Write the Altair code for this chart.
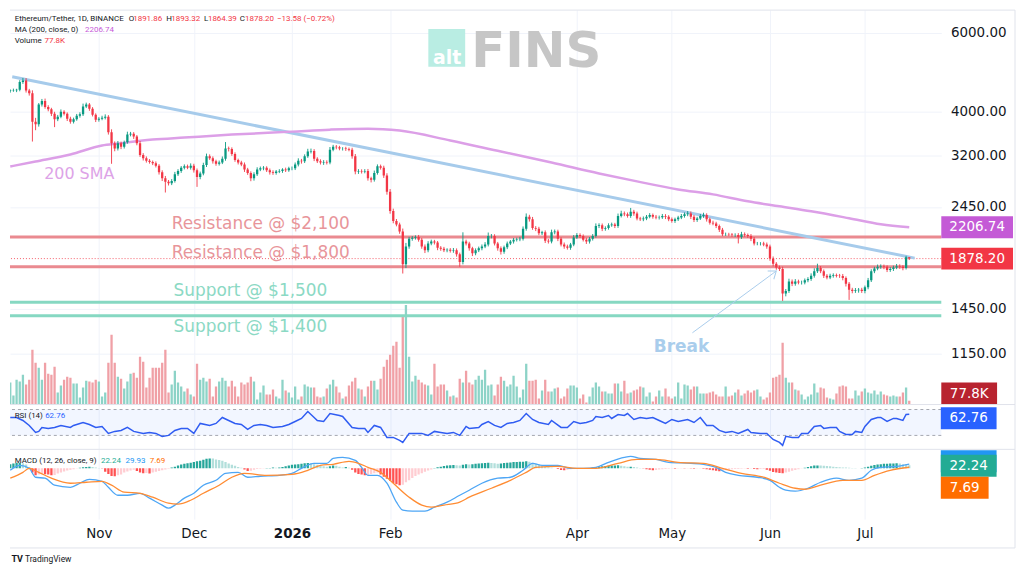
import altair as alt
import pandas as pd

# ---------------- data ----------------
FIRST_DAY = "2025-10-04"
X_START = "2025-10-03 22:00"
X_END = "2026-07-25 03:00"
FIRST_OPEN = 4450
LAST_HIGH, LAST_LOW = 1893.32, 1864.39

CLOSE = [
    4460, 4470, 4480, 4660, 4700, 4460, 4400, 3800, 3750, 4150,
    4230, 4100, 4050, 3960, 3850, 3900, 4000, 3960, 3860, 3800,
    3850, 3920, 3950, 4110, 4150, 4060, 3940, 3840, 3860, 3880,
    3900, 3600, 3400, 3310, 3400, 3340, 3420, 3560, 3570, 3520,
    3400, 3200, 3150, 3110, 3090, 3070, 3030, 2930, 2840, 2790,
    2770, 2800, 2900, 2950, 3000, 3020, 3000, 3030, 2960, 2860,
    2910, 3040, 3180, 3150, 3100, 3060, 3080, 3140, 3310, 3300,
    3220, 3120, 3080, 3050, 2970, 2920, 2840, 2900, 2970, 2990,
    3000, 2960, 2930, 2920, 2940, 2950, 2970, 2960, 2990, 2990,
    3050, 3110, 3100, 3180, 3260, 3270, 3140, 3100, 3080, 3090,
    3080, 3290, 3340, 3330, 3310, 3310, 3300, 3290, 3180, 2940,
    2950, 2940, 2950, 2840, 2820, 2920, 3020, 3000, 2880, 2650,
    2400, 2280, 2240, 2160, 1825, 2000, 2080, 2090, 2100, 2070,
    2000, 1960, 2030, 2050, 2040, 1985, 1975, 1960, 1965, 1955,
    1960, 1920, 1845, 2050, 2030, 1980, 1930, 1960, 1980, 2000,
    2020, 2110, 2110, 2030, 1980, 1945, 1990, 2030, 2050, 2070,
    2075, 2080, 2190, 2330, 2300, 2200, 2190, 2140, 2150, 2060,
    2050, 2150, 2160, 2080, 2020, 2000, 1985, 2020, 2095, 2120,
    2110, 2070, 2050, 2080, 2110, 2220, 2230, 2190, 2200, 2230,
    2240, 2220, 2340, 2370, 2360, 2340, 2390, 2370, 2310, 2300,
    2310, 2330, 2350, 2330, 2320, 2325, 2340, 2330, 2300, 2280,
    2300, 2320, 2340, 2360, 2370, 2330, 2290, 2310, 2340, 2350,
    2300, 2260, 2250, 2220, 2180, 2130, 2130, 2125, 2120, 2120,
    2100, 2130, 2120, 2110, 2080, 2030, 2030, 2030, 2020, 2000,
    1880, 1830, 1795, 1780, 1570, 1590, 1670, 1650, 1670, 1660,
    1660, 1680, 1690, 1720, 1760, 1790, 1760, 1720, 1705, 1720,
    1725, 1720, 1718, 1700, 1650, 1600, 1590, 1595, 1600, 1590,
    1620, 1680, 1760, 1785, 1800, 1805, 1800, 1770, 1780, 1795,
    1805, 1800, 1790, 1891.86, 1878.20,
]

# upper / lower wick lengths, in tenths of a percent beyond the body
UP_WICK = [
    6, 8, 5, 10, 13, 12, 9, 15, 20, 8, 10, 12, 9, 8, 10,
    9, 12, 8, 7, 10, 8, 9, 10, 15, 10, 8, 9, 7, 8, 10,
    12, 8, 15, 10, 12, 9, 8, 14, 10, 9, 8, 12, 10, 9, 8,
    7, 9, 8, 10, 12, 9, 10, 12, 9, 8, 10, 9, 12, 10, 9,
    10, 12, 14, 10, 9, 8, 10, 12, 34, 10, 9, 8, 7, 9, 10,
    9, 8, 10, 12, 9, 8, 7, 9, 10, 8, 9, 7, 10, 8, 9,
    10, 12, 9, 10, 14, 12, 9, 8, 10, 9, 8, 14, 10, 9, 8,
    7, 9, 8, 10, 12, 9, 8, 9, 10, 8, 12, 10, 9, 10, 12,
    14, 12, 10, 9, 15, 18, 10, 9, 8, 10, 9, 10, 12, 10, 9,
    8, 9, 10, 8, 9, 12, 10, 9, 49, 10, 9, 8, 10, 9, 10,
    12, 18, 10, 9, 8, 10, 9, 10, 8, 9, 8, 10, 12, 17, 10,
    12, 9, 10, 8, 10, 9, 14, 10, 9, 8, 10, 9, 8, 12, 10,
    9, 8, 10, 9, 10, 14, 10, 9, 8, 10, 9, 8, 12, 14, 10,
    9, 20, 10, 9, 8, 10, 9, 10, 8, 9, 8, 10, 9, 8, 9,
    8, 9, 10, 9, 12, 10, 9, 8, 10, 12, 9, 8, 10, 9, 8,
    9, 8, 7, 8, 9, 10, 12, 9, 8, 10, 9, 8, 7, 9, 10,
    9, 10, 8, 9, 12, 10, 14, 10, 12, 9, 10, 9, 10, 12, 15,
    22, 10, 9, 8, 10, 9, 8, 9, 10, 8, 9, 10, 12, 9, 10,
    9, 12, 10, 9, 12, 10, 9, 8, 10, 9, 12, 10, 9, 7, 1,
]
DN_WICK = [
    8, 6, 10, 8, 9, 10, 12, 97, 30, 12, 10, 9, 10, 12, 40,
    10, 8, 9, 12, 10, 9, 8, 10, 9, 8, 10, 9, 12, 10, 8,
    9, 12, 100, 14, 10, 12, 9, 8, 10, 12, 10, 9, 12, 10, 9,
    10, 9, 12, 14, 54, 12, 10, 8, 9, 10, 9, 8, 10, 12, 50,
    12, 9, 10, 9, 12, 10, 9, 8, 10, 12, 10, 9, 10, 9, 12,
    10, 15, 12, 9, 8, 10, 9, 12, 10, 9, 8, 10, 9, 8, 10,
    9, 10, 12, 9, 8, 10, 12, 9, 10, 12, 10, 9, 8, 10, 9,
    10, 9, 8, 12, 14, 12, 10, 9, 12, 14, 10, 9, 10, 12, 15,
    14, 12, 10, 12, 47, 20, 12, 10, 9, 10, 12, 14, 10, 9, 10,
    12, 10, 9, 10, 9, 10, 12, 24, 12, 10, 12, 14, 10, 9, 10,
    9, 10, 12, 10, 12, 14, 10, 9, 8, 10, 9, 10, 9, 10, 12,
    10, 12, 10, 9, 12, 10, 9, 10, 12, 10, 12, 9, 10, 9, 8,
    10, 9, 12, 10, 9, 8, 10, 12, 10, 9, 8, 10, 9, 8, 10,
    9, 10, 12, 10, 9, 10, 9, 8, 10, 9, 10, 9, 12, 10, 9,
    10, 9, 8, 9, 10, 12, 10, 9, 8, 10, 12, 10, 9, 10, 12,
    10, 9, 8, 9, 10, 33, 10, 9, 10, 12, 10, 9, 10, 9, 12,
    12, 14, 12, 10, 38, 15, 10, 12, 10, 9, 10, 9, 10, 9, 10,
    9, 10, 12, 10, 9, 10, 9, 10, 12, 14, 51, 12, 10, 12, 10,
    12, 10, 9, 10, 9, 10, 12, 10, 9, 10, 9, 10, 12, 8, 1,
]

VOLUME_K = [
    440, 180, 500, 460, 600, 400, 500, 1100, 840, 740,
    500, 840, 620, 600, 760, 240, 380, 500, 560, 540,
    420, 420, 140, 340, 480, 460, 440, 500, 460, 160,
    240, 840, 1400, 840, 560, 520, 320, 460, 620, 640,
    540, 960, 860, 340, 540, 740, 740, 740, 840, 1100,
    240, 400, 680, 440, 360, 260, 320, 200, 160, 820,
    500, 540, 460, 520, 160, 360, 460, 540, 480, 360,
    480, 360, 160, 440, 400, 440, 560, 460, 100, 240,
    380, 200, 200, 300, 160, 120, 500, 280, 240, 140,
    360, 100, 160, 400, 360, 340, 340, 160, 140, 160,
    320, 400, 500, 360, 240, 120, 160, 380, 460, 540,
    320, 300, 160, 360, 480, 480, 300, 520, 760, 900,
    1000, 1180, 1260, 740, 1780, 2000, 960, 460, 580, 500,
    440, 400, 380, 200, 820, 360, 400, 400, 280, 160,
    180, 140, 520,
    440, 680, 440, 400, 500, 580, 500, 700, 380, 400, 180, 400, 560, 480, 360, 400, 580, 360,
    140, 300, 820, 480, 480, 500, 120, 280, 500, 260, 260, 320, 340, 120, 160, 320, 380, 380, 340, 120, 200,
    40, 160, 340, 440, 360, 260, 260, 220, 220, 420, 420, 260, 480, 220, 240, 280, 300, 360, 340, 160, 240,
    60, 160, 280, 160, 320, 160, 120, 160, 440, 120, 400, 380, 300, 360, 360, 220, 220, 220, 240, 260, 200,
    160, 160, 360, 160, 180, 240, 300, 180, 220, 280, 240,
    280, 300, 160, 100, 140, 240, 540, 560, 600, 1240,
    540, 440, 440, 300, 280, 200, 100, 160, 200, 420, 240,
    340, 320, 140, 120, 100, 220, 360, 380, 360, 120, 120, 280, 180, 260, 320, 240,
    220, 280, 200, 260, 200, 180, 160, 180, 160, 160, 240, 340, 77.8,
]

SMA_DAY = [0, 8, 19, 29, 34, 45, 55, 70, 89, 101, 113, 123, 139, 155, 171, 186, 198, 211,
           222, 233, 243, 253, 265, 275, 284]
SMA_VAL = [3018, 3096, 3210, 3361, 3396, 3466, 3502, 3556, 3611, 3648, 3667, 3630, 3449, 3259,
           3080, 2912, 2795, 2682, 2614, 2522, 2458, 2396, 2312, 2241, 2206.74]

RSI_DAY = [0, 2, 4, 6, 8, 9, 10, 12, 14, 16, 19, 20, 23, 25, 27, 29, 31, 33, 35, 37,
           39, 42, 44, 46, 48, 50, 52, 54, 56, 58, 60, 63, 65, 67, 69, 71, 73, 75, 77, 79,
           81, 83, 86, 88, 90, 92, 94, 96, 97, 99, 101, 104, 105, 108, 110, 112, 113, 115, 117, 119,
           121, 123, 124, 126, 127, 130, 132, 134, 136, 138, 140, 142, 144, 145, 148, 149, 151, 153, 155, 157,
           159, 161, 163, 165, 167, 170, 171, 174, 176, 178, 180, 182, 184, 185, 187, 189, 190, 192, 194, 195,
           197, 199, 201, 203, 205, 207, 209, 211, 214, 216, 218, 220, 222, 224, 226, 228, 230, 233, 234, 237,
           239, 241, 243, 244, 245, 247, 249, 250, 252, 254, 256, 257, 259, 261, 262, 264, 266, 267, 269, 270,
           272, 274, 275, 277, 279, 280, 282, 283, 284]
RSI_VAL = [57.7, 57.7, 53.1, 45.4, 34.6, 36.2, 42.3, 40.8, 42.3, 45.4, 42.3, 45.4, 50, 46.9, 42.3, 43.8, 33.1, 36.2, 37.7, 42.3,
           36.2, 33.1, 34.6, 33.1, 28.5, 30, 37.7, 40.8, 40.8, 33.1, 48.5, 45.4, 48.5, 57.7, 53.1, 48.5, 46.9, 39.2, 45.4, 46.9,
           45.4, 42.3, 43.8, 46.9, 51.5, 56.2, 66.9, 57.7, 53.1, 51.5, 63.8, 60.8, 59.2, 42.3, 40.8, 40.8, 34.6, 45.4, 42.3, 26.9,
           26.9, 22.3, 19.2, 33.1, 33.1, 33.1, 30, 36.2, 34.6, 33.1, 34.6, 30, 43.8, 40.8, 42.3, 46.9, 51.5, 45.4, 42.3, 48.5,
           50, 53.1, 63.8, 54.6, 50, 46.9, 53.1, 42.3, 42.3, 51.5, 48.5, 50, 53.1, 59.2, 57.7, 60.8, 56.2, 62.3, 60.8, 63.8,
           54.6, 57.7, 56.2, 57.7, 53.1, 48.5, 54.6, 51.5, 54.6, 50, 57.7, 45.4, 45.4, 37.7, 34.6, 36.2, 33.1, 39.2, 34.6, 33.1,
           33.1, 23.8, 19.2, 14.6, 28.5, 26.9, 26.9, 33.1, 33.1, 43.8, 45.4, 40.8, 42.3, 42.3, 36.2, 31.5, 31.5, 36.2, 34.6, 43.8,
           54.6, 57.7, 57.7, 51.5, 56.2, 56.2, 53.1, 62.3, 62.76]

MACD_DAY = [0, 3, 6, 8, 11, 14, 19, 22, 25, 29, 31, 34, 37, 41, 44, 48, 50, 52, 55, 58,
            61, 65, 68, 72, 75, 79, 85, 89, 92, 96, 100, 102, 105, 109, 111, 113, 116, 119, 122, 124,
            127, 131, 134, 138, 142, 145, 149, 154, 158, 162, 165, 168, 173, 177, 181, 185, 189, 194, 196, 199,
            204, 208, 215, 219, 223, 226, 230, 236, 240, 243, 245, 248, 252, 256, 261, 265, 269, 272, 275, 280, 284]
MACD_VAL = [-14, 21, 0, -64, -71, -121, -136, -107, -79, -93, -136, -193, -193, -179, -214, -264, -286, -264, -214, -179,
            -121, -86, -36, -29, -64, -57, -50, -36, 0, 36, 36, 71, 79, 57, 7, -50, -50, -107, -243, -300,
            -307, -307, -279, -243, -193, -157, -107, -71, -64, -14, 36, 21, 21, 0, 0, 7, 43, 79, 86, 71,
            64, 43, 36, 29, 7, -29, -50, -64, -86, -136, -157, -164, -143, -100, -71, -86, -71, -14, 7, 14, 29.93]
SIG_DAY = [0, 4, 6, 9, 13, 19, 24, 29, 32, 36, 41, 45, 50, 53, 57, 61, 66, 70, 74, 81,
           89, 94, 98, 102, 107, 110, 113, 117, 121, 126, 130, 133, 137, 142, 145, 152, 158, 163, 166, 173,
           179, 185, 192, 198, 204, 211, 219, 225, 231, 238, 243, 248, 251, 256, 263, 269, 273, 278, 284]
SIG_VAL = [-71, -29, 0, -29, -71, -107, -100, -93, -121, -171, -179, -207, -250, -257, -229, -179, -121, -64, -36, -50,
           -43, -14, 21, 29, 50, 36, 7, -29, -107, -207, -264, -279, -264, -243, -207, -143, -86, -29, 7, 14,
           0, 0, 36, 64, 64, 43, 36, 0, -36, -64, -107, -143, -150, -121, -86, -86, -50, -14, 7.69]
HIST = [
    30, 35, 38, 40, 36, 28, 10, -30, -50, -45,
    -40, -42, -45, -50, -48, -38, -30, -22, -15, -10,
    -6, -2, 4, 8, 10, 12, 10, 6, 2, -2,
    -25, -40, -55, -57, -50, -45, -30, -22, -15, -10,
    -20, -30, -36, -34, -38, -30, -25, -20, -14, -8,
    -3, 5, 12, 20, 28, 33, 36, 40, 45, 50,
    55, 62, 68, 71, 70, 64, 60, 55, 45, 35,
    25, 18, 10, 4, -8, -20, -18, -10, -5, -3,
    -2, 2, 3, 5, 4, 6, 10, 14, 20, 25,
    28, 30, 33, 36, 38, 36, 30, 25, 20, 15,
    12, 15, 20, 18, 12, 6, 10, 4, -10, -30,
    -40, -45, -50, -48, -40, -35, -30, -45, -60, -75,
    -90, -105, -115, -121, -118, -100, -85, -70, -55, -45,
    -35, -25, -15, -8, 3, 8, 12, 16, 20, 22,
    24, 22, 20, 25, 30, 28, 30, 32, 34, 36,
    38, 40, 38, 36, 33, 35, 38, 40, 42, 45,
    46, 47, 48, 50, 47, 40, 33, 26, 18, 12,
    8, 4, 1, -5, -12, -14, -10, -7, -5, -4,
    -3, -2, -1, 2, 5, 8, 11, 14, 16, 18,
    20, 21, 22, 18, 14, 11, 12, 9, 6, 3,
    -2, -6, -10, -14, -12, -9, -6, -4, -3, -2,
    -3, -2, -1, -2, -1, -2, -3, -2, -1, -3,
    -6, -10, -14, -18, -21, -18, -14, -10, -7, -5,
    -4, -3, -2, -3, -2, -4, -6, -5, -4, -10,
    -18, -26, -30, -34, -36, -30, -24, -18, -12, -6,
    -2, 4, 10, 15, 20, 21, 20, 18, 16, 14,
    12, 10, 8, 6, 5, 4, 3, 2, 1, 2,
    6, 12, 18, 24, 28, 30, 32, 33, 34, 35,
    36, 34, 30, 28, 22.24,
]

RESISTANCE = [2100, 1800]
SUPPORT = [1500, 1400]
LAST_PRICE = 1878.20
SMA_LAST = 2206.74
TREND = [("2025-10-04 15:00", 4788), ("2026-07-16 17:00", 1883)]
BREAK_ARROW = [("2026-05-07 12:00", 1282), ("2026-06-03 00:00", 1762)]
ANNOTATIONS = [
    ("200 SMA", "2025-10-14 17:00", 2901, "#dda3e7", 16),
    ("Resistance @ $2,100", "2025-11-24 00:00", 2245, "#e8959a", 17),
    ("Resistance @ $1,800", "2025-11-24 00:00", 1932, "#e8959a", 17),
    ("Support @ $1,500", "2025-11-24 14:00", 1590, "#8bd9c4", 17),
    ("Support @ $1,400", "2025-11-24 14:00", 1322, "#8bd9c4", 17),
]
BREAK_LABEL = ("Break", "2026-04-25 07:00", 1189)
MONTH_TICKS = ["2025-11-01", "2025-12-01", "2026-01-01", "2026-02-01",
               "2026-04-01", "2026-05-01", "2026-06-01", "2026-07-01"]
PRICE_TICKS = [1150, 1450, 2450, 3200, 4000, 6000]

# ---------------- styling ----------------
UP, DN = "#089981", "#f23645"
VUP, VDN = "#8dd3c7", "#f0a0a6"
GRID = "#f0f3fa"
SEP = "#e0e3eb"
TXT = "#131722"
W = 935
H_P, H_R, H_M = 396, 45, 70


def ms(s):
    return int(pd.Timestamp(s, tz="UTC").value // 1_000_000)


DAY_MS = 86_400_000
T0 = ms(FIRST_DAY)
n = len(CLOSE)
opens = [FIRST_OPEN] + CLOSE[:-1]
highs = [max(o, c) * (1 + u / 1000) for o, c, u in zip(opens, CLOSE, UP_WICK)]
lows = [min(o, c) * (1 - d / 1000) for o, c, d in zip(opens, CLOSE, DN_WICK)]
highs[-1], lows[-1] = LAST_HIGH, LAST_LOW
df = pd.DataFrame({"t": [T0 + i * DAY_MS for i in range(n)], "o": opens, "h": highs,
                   "l": lows, "c": CLOSE, "vol": VOLUME_K, "hist": HIST})
hc = []
for i, hv in enumerate(HIST):
    p = HIST[i - 1] if i > 0 else hv
    if hv >= 0:
        hc.append("g1" if hv >= p else "g2")
    else:
        hc.append("r1" if hv < p else "r2")
df["hc"] = hc

sma_df = pd.DataFrame({"t": [T0 + d * DAY_MS for d in SMA_DAY], "v": SMA_VAL})
rsi_df = pd.DataFrame({"t": [T0 + d * DAY_MS for d in RSI_DAY], "v": RSI_VAL})
macd_df = pd.DataFrame({"t": [T0 + d * DAY_MS for d in MACD_DAY], "v": MACD_VAL})
sig_df = pd.DataFrame({"t": [T0 + d * DAY_MS for d in SIG_DAY], "v": SIG_VAL})
trend_df = pd.DataFrame({"t": [ms(a) for a, _ in TREND], "v": [b for _, b in TREND]})
arrow_df = pd.DataFrame({"t": [ms(BREAK_ARROW[0][0])], "v": [BREAK_ARROW[0][1]],
                         "t2": [ms(BREAK_ARROW[1][0])], "v2": [BREAK_ARROW[1][1]]})
tip_df = pd.DataFrame({"t": [ms(BREAK_ARROW[1][0])], "v": [BREAK_ARROW[1][1]]})
ann_df = pd.DataFrame({"s": [a[0] for a in ANNOTATIONS], "t": [ms(a[1]) for a in ANNOTATIONS],
                       "v": [a[2] for a in ANNOTATIONS], "col": [a[3] for a in ANNOTATIONS],
                       "fs": [a[4] for a in ANNOTATIONS]})
brk_df = pd.DataFrame({"s": [BREAK_LABEL[0]], "t": [ms(BREAK_LABEL[1])], "v": [BREAK_LABEL[2]]})
lvl_df = pd.DataFrame({"v": RESISTANCE + SUPPORT,
                       "col": ["#ea8a90"] * len(RESISTANCE) + ["#86d8c2"] * len(SUPPORT)})
ONE = pd.DataFrame({"k": [0]})

XS = alt.Scale(type="utc", domain=[ms(X_START), ms(X_END)], padding=0, nice=False)
XV = [ms(d) for d in MONTH_TICKS]
AX_GRID = alt.Axis(values=XV, grid=True, gridColor=GRID, labels=False, ticks=False,
                   domain=False, title=None)
AX_LAB = alt.Axis(values=XV, grid=True, gridColor=GRID, ticks=False, domain=False, title=None,
                  labelExpr="utcmonth(datum.value) == 0 ? utcFormat(datum.value, '%Y') : utcFormat(datum.value, '%b')",
                  labelFontSize=13.5, labelColor=TXT, labelFont="DejaVu Sans", labelPadding=7,
                  labelOverlap=False, labelFlush=False,
                  labelFontWeight={"condition": {"test": "utcmonth(datum.value) == 0", "value": "bold"},
                                   "value": "normal"})
XG = alt.X("t:T", scale=XS, axis=AX_GRID)
XL = alt.X("t:T", scale=XS, axis=AX_LAB)

PY = alt.Scale(type="log", domain=[886, 6751], nice=False)
PAXIS = alt.Axis(orient="right", values=PRICE_TICKS, format=".2f", grid=True, gridColor=GRID,
                 ticks=False, tickSize=0, domain=False, labelAlign="right", labelPadding=65,
                 labelFontSize=13.5, labelColor=TXT, labelFont="DejaVu Sans", title=None)
RY = alt.Scale(domain=[8.46, 77.7], nice=False, zero=False)
MY = alt.Scale(domain=[-364, 136], nice=False, zero=False)


def yP(field):
    return alt.Y(field, scale=PY, axis=PAXIS)


def txt(s, x, y, color, size, font="Roboto", weight="normal", align="left", baseline="middle"):
    return alt.Chart(ONE).mark_text(align=align, baseline=baseline, font=font, fontSize=size,
                                    fontWeight=weight, color=color).encode(
        x=alt.value(x), y=alt.value(y), text=alt.value(s))


def box_shape(w):
    h = round(22 / w, 4)
    return f"M-1,-{h}L1,-{h}L1,{h}L-1,{h}Z"


def box_px(xc, yc, w, color):
    return alt.Chart(ONE).mark_point(shape=box_shape(w), size=w * w, filled=True, opacity=1,
                                     color=color, strokeWidth=0).encode(x=alt.value(xc), y=alt.value(yc))


def badge_px(s, xc, yc, w, color):
    return [box_px(xc, yc, w, color), txt(s, xc, yc, "white", 13.5, font="DejaVu Sans", align="center")]


def badge_price(s, v, w, color):
    bdf = pd.DataFrame({"v": [v]})
    pt = alt.Chart(bdf).mark_point(shape=box_shape(w), size=w * w, filled=True, opacity=1,
                                   color=color, strokeWidth=0).encode(x=alt.value(971), y=yP("v:Q"))
    tx = alt.Chart(bdf).mark_text(align="center", baseline="middle", font="DejaVu Sans",
                                  fontSize=13.5, color="white").encode(
        x=alt.value(971), y=yP("v:Q"), text=alt.value(s))
    return [pt, tx]


def hline(y, x1, x2):
    return alt.Chart(ONE).mark_rule(color=SEP, strokeWidth=1).encode(
        x=alt.value(x1), x2=alt.value(x2), y=alt.value(y))


def vline(x, y1, y2):
    return alt.Chart(ONE).mark_rule(color=SEP, strokeWidth=1).encode(
        x=alt.value(x), y=alt.value(y1), y2=alt.value(y2))


up_test = alt.datum.c >= alt.datum.o

# ---------------- price panel ----------------
vol = alt.Chart(df).mark_bar(size=2.3, clip=True).encode(
    x=XG, y=alt.Y("vol:Q", scale=alt.Scale(domain=[0, 7920], nice=False), axis=None),
    color=alt.condition(up_test, alt.value(VUP), alt.value(VDN)))

levels = alt.Chart(lvl_df).mark_rule(strokeWidth=3).encode(
    y=yP("v:Q"), color=alt.Color("col:N", scale=None))
last_line = alt.Chart(pd.DataFrame({"v": [LAST_PRICE]})).mark_rule(
    color=DN, strokeDash=[1, 2], strokeWidth=1, opacity=0.8).encode(y=yP("v:Q"))
trend = alt.Chart(trend_df).mark_line(color="#a6cbeb", strokeWidth=3, clip=True).encode(x=XG, y=yP("v:Q"))
sma = alt.Chart(sma_df).mark_line(color="#dc9fe7", strokeWidth=2.5, interpolate="monotone",
                                  clip=True).encode(x=XG, y=yP("v:Q"))
wick = alt.Chart(df).mark_rule(strokeWidth=0.9, clip=True).encode(
    x=XG, y=yP("l:Q"), y2="h:Q", color=alt.condition(up_test, alt.value(UP), alt.value(DN)))
body = alt.Chart(df).mark_bar(size=2.3, clip=True).encode(
    x=XG, y=yP("o:Q"), y2="c:Q", color=alt.condition(up_test, alt.value(UP), alt.value(DN)))
ann = alt.Chart(ann_df).mark_text(align="left", baseline="middle", font="DejaVu Sans").encode(
    x=XG, y=yP("v:Q"), text="s:N", color=alt.Color("col:N", scale=None),
    size=alt.Size("fs:Q", scale=None))
brk = alt.Chart(brk_df).mark_text(align="left", baseline="middle", font="DejaVu Sans",
                                  fontSize=17, fontWeight="bold", color="#a9cdec").encode(
    x=XG, y=yP("v:Q"), text="s:N")
arrow = alt.Chart(arrow_df).mark_rule(color="#a9cdec", strokeWidth=1).encode(
    x=XG, y=yP("v:Q"), x2="t2:T", y2="v2:Q")
tip = alt.Chart(tip_df).mark_point(shape="M-0.6,0.8L0,0L0.6,0.8", size=300, angle=53.6,
                                   color="#a9cdec", filled=False, strokeWidth=1, opacity=1).encode(
    x=XG, y=yP("v:Q"))

wm_box = alt.Chart(ONE).mark_rect(color="#b9ede3").encode(
    x=alt.value(420), x2=alt.value(457), y=alt.value(19), y2=alt.value(57))
wm = [wm_box,
      txt("alt", 439, 54, "white", 19, font="DejaVu Sans", weight="bold", align="center",
          baseline="alphabetic"),
      txt("FINS", 463, 57, "#c6c6c6", 50, font="DejaVu Sans", weight="bold", baseline="alphabetic")]

hdr = [
    txt("Ethereum/Tether, 1D, BINANCE", 4.7, 8.7, TXT, 8),
    txt("O", 119.3, 8.7, TXT, 8), txt("1891.86", 123.7, 8.7, DN, 8),
    txt("H", 157, 8.7, TXT, 8), txt("1893.32", 162, 8.7, DN, 8),
    txt("L", 194.7, 8.7, TXT, 8), txt("1864.39", 198.7, 8.7, DN, 8),
    txt("C", 230.7, 8.7, TXT, 8), txt("1878.20", 236, 8.7, DN, 8),
    txt("\u221213.58 (\u22120.72%)", 268, 8.7, DN, 8),
    txt("MA (200, close, 0)", 4.7, 19.7, TXT, 8), txt("2206.74", 75.3, 19.7, "#c65ad8", 8),
    txt("Volume", 4.7, 31.3, TXT, 8), txt("77.8K", 34.7, 31.3, DN, 8),
]

price_group = alt.layer(
    *wm, levels, last_line, trend, sma, wick, body, ann, brk, arrow, tip,
    *badge_price("2206.74", SMA_LAST, 72, "#c45ad6"),
    *badge_price("1878.20", LAST_PRICE, 72, DN),
    *badge_px("77.8K", 963, 385, 56, "#b8232f"),
    *hdr,
    hline(0, 0, 1009), hline(H_P, 0, 1009), vline(1009, 0, H_P),
)
price = alt.layer(vol, price_group).resolve_scale(y="independent").properties(width=W, height=H_P)

# ---------------- RSI panel ----------------
band = alt.Chart(pd.DataFrame({"a": [70], "b": [30]})).mark_rect(color="#2962ff", opacity=0.06).encode(
    x=alt.value(0), x2=alt.value(W), y=alt.Y("a:Q", scale=RY, axis=None), y2="b:Q")
rsi_rules = alt.Chart(pd.DataFrame({"v": [70, 30]})).mark_rule(
    color="#a3a6af", strokeDash=[3, 3], strokeWidth=1).encode(y=alt.Y("v:Q", scale=RY, axis=None))
rsi_line = alt.Chart(rsi_df).mark_line(color="#2f5cf2", strokeWidth=1.5, clip=True).encode(
    x=XG, y=alt.Y("v:Q", scale=RY, axis=None))
rsi = alt.layer(
    band, rsi_rules, rsi_line,
    txt("RSI (14)", 4.7, 12, TXT, 8), txt("62.76", 35.3, 12, "#2962ff", 8),
    *badge_px("62.76", 962.5, 13.7, 56, "#2962ff"),
    hline(H_R, 0, 1009), vline(1009, 0, H_R),
).properties(width=W, height=H_R)

# ---------------- MACD panel ----------------
hist = alt.Chart(df).mark_bar(size=2.3, clip=True).encode(
    x=XL, y=alt.Y("hist:Q", scale=MY, axis=None),
    color=alt.Color("hc:N", scale=alt.Scale(domain=["g1", "g2", "r1", "r2"],
                                            range=["#26a69a", "#b2dfdb", "#ff5252", "#ffcdd2"]),
                    legend=None))
macd_line = alt.Chart(macd_df).mark_line(color="#4ea6f5", strokeWidth=1.3, interpolate="monotone",
                                         clip=True).encode(x=XL, y=alt.Y("v:Q", scale=MY, axis=None))
sig_line = alt.Chart(sig_df).mark_line(color="#ff8c33", strokeWidth=1.3, interpolate="monotone",
                                       clip=True).encode(x=XL, y=alt.Y("v:Q", scale=MY, axis=None))
macd = alt.layer(
    hist, macd_line, sig_line,
    txt("MACD (12, 26, close, 9)", 4.7, 11.7, TXT, 8),
    txt("22.24", 91.3, 11.7, "#22ab94", 8), txt("29.93", 116, 11.7, "#2196f3", 8),
    txt("7.69", 140.3, 11.7, "#ff6d00", 8),
    box_px(962.5, 12, 56, "#2196f3"),
    *badge_px("22.24", 962.5, 16.5, 56, "#22ab94"),
    *badge_px("7.69", 958.5, 38.5, 48, "#ff6d00"),
    hline(99, 0, 1009), vline(1009, 0, 99),
    txt("TV", 1.5, 110, TXT, 9, weight="bold"),
    txt("TradingView", 15, 110, TXT, 8.5),
).properties(width=W, height=H_M)

chart = alt.vconcat(price, rsi, macd, spacing=0, bounds="flush").properties(
    padding=0, background="white").configure_view(stroke=None).configure_scale(continuousPadding=0)

chart.save("out.html", embed_options={"renderer": "svg", "actions": False})
